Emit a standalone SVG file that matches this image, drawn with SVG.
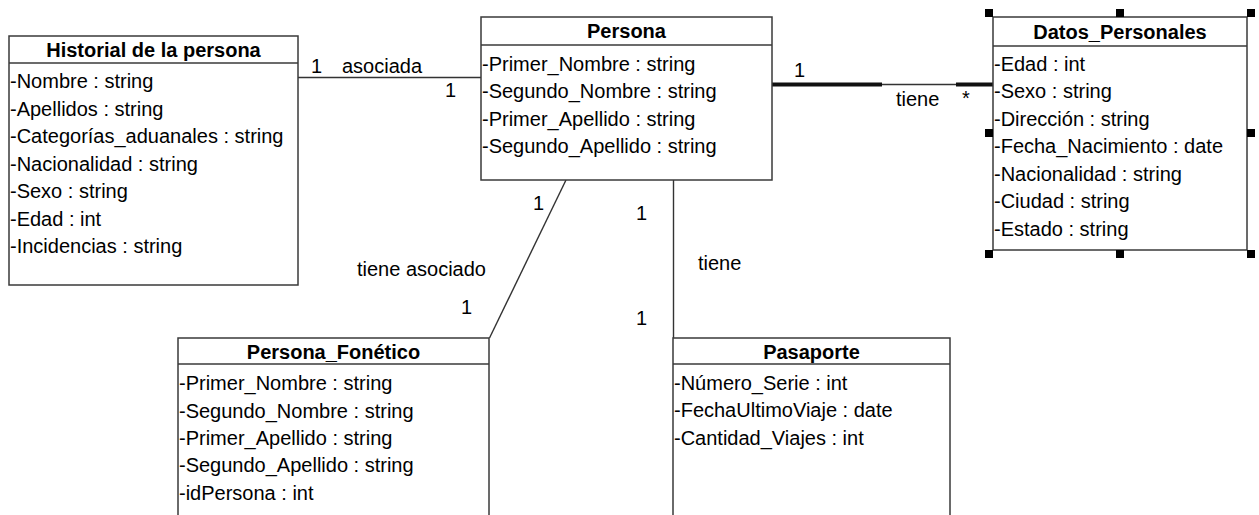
<svg xmlns="http://www.w3.org/2000/svg" width="1259" height="515" viewBox="0 0 1259 515">
  <style>
    .box { fill: #ffffff; stroke: #3a3a3a; stroke-width: 1.5; }
    .sep { stroke: #3a3a3a; stroke-width: 1.5; }
    .title { font-family: "Liberation Sans", Arial, sans-serif; font-size: 20px; font-weight: bold; fill: #000; text-anchor: middle; }
    .attr { font-family: "Liberation Sans", Arial, sans-serif; font-size: 20px; fill: #000; }
    .lbl { font-family: "Liberation Sans", Arial, sans-serif; font-size: 20px; fill: #000; }
    .link { stroke: #333; stroke-width: 1.4; fill: none; }
    .bold-link { stroke: #111; stroke-width: 4; fill: none; }
    .handle { fill: #000; }
  </style>
  <rect width="1259" height="515" fill="#ffffff"/>

  <!-- associations -->
  <g id="connectors">
    <!-- Historial de la persona - Persona -->
    <line class="link" x1="298" y1="77.5" x2="481" y2="77.5"/>
    <text class="lbl" x="311" y="73">1</text>
    <text class="lbl" x="342" y="73">asociada</text>
    <text class="lbl" x="445" y="97">1</text>

    <!-- Persona - Datos_Personales -->
    <line class="bold-link" x1="772" y1="84.5" x2="882" y2="84.5"/>
    <line class="link" x1="882" y1="84.5" x2="956" y2="84.5"/>
    <line class="bold-link" x1="956" y1="84.5" x2="993" y2="84.5"/>
    <text class="lbl" x="794" y="77">1</text>
    <text class="lbl" x="896" y="106">tiene</text>
    <text class="lbl" x="962" y="105">*</text>

    <!-- Persona - Persona_Fonético -->
    <line class="link" x1="566" y1="180" x2="489.5" y2="338"/>
    <text class="lbl" x="533" y="210">1</text>
    <text class="lbl" x="357" y="276">tiene asociado</text>
    <text class="lbl" x="461" y="314">1</text>

    <!-- Persona - Pasaporte -->
    <line class="link" x1="673.5" y1="180" x2="673.5" y2="338"/>
    <text class="lbl" x="636" y="220">1</text>
    <text class="lbl" x="698" y="270">tiene</text>
    <text class="lbl" x="636" y="325">1</text>
  </g>

  <!-- Historial de la persona -->
  <g id="historial">
    <rect class="box" x="9" y="36" width="289" height="249"/>
    <line class="sep" x1="9" y1="63" x2="298" y2="63"/>
    <text class="title" x="153.5" y="57">Historial de la persona</text>
    <text class="attr" x="10" y="88">-Nombre : string</text>
    <text class="attr" x="10" y="115.5">-Apellidos : string</text>
    <text class="attr" x="10" y="143">-Categorías_aduanales : string</text>
    <text class="attr" x="10" y="170.5">-Nacionalidad : string</text>
    <text class="attr" x="10" y="198">-Sexo : string</text>
    <text class="attr" x="10" y="225.5">-Edad : int</text>
    <text class="attr" x="10" y="253">-Incidencias : string</text>
  </g>

  <!-- Persona -->
  <g id="persona">
    <rect class="box" x="481" y="17" width="291" height="163"/>
    <line class="sep" x1="481" y1="45" x2="772" y2="45"/>
    <text class="title" x="626.5" y="38">Persona</text>
    <text class="attr" x="482" y="70.5">-Primer_Nombre : string</text>
    <text class="attr" x="482" y="98">-Segundo_Nombre : string</text>
    <text class="attr" x="482" y="125.5">-Primer_Apellido : string</text>
    <text class="attr" x="482" y="153">-Segundo_Apellido : string</text>
  </g>

  <!-- Datos_Personales (selected) -->
  <g id="datos-personales">
    <rect class="box" x="993" y="17" width="254" height="233"/>
    <line class="sep" x1="993" y1="46" x2="1247" y2="46"/>
    <text class="title" x="1120" y="39">Datos_Personales</text>
    <text class="attr" x="994" y="70.5">-Edad : int</text>
    <text class="attr" x="994" y="98">-Sexo : string</text>
    <text class="attr" x="994" y="125.5">-Dirección : string</text>
    <text class="attr" x="994" y="153">-Fecha_Nacimiento : date</text>
    <text class="attr" x="994" y="180.5">-Nacionalidad : string</text>
    <text class="attr" x="994" y="208">-Ciudad : string</text>
    <text class="attr" x="994" y="235.5">-Estado : string</text>
    <rect class="handle" x="985" y="9" width="8" height="8"/>
    <rect class="handle" x="1116" y="9" width="8" height="8"/>
    <rect class="handle" x="1247" y="9" width="8" height="8"/>
    <rect class="handle" x="985" y="129" width="8" height="8"/>
    <rect class="handle" x="1247" y="129" width="8" height="8"/>
    <rect class="handle" x="985" y="250" width="8" height="8"/>
    <rect class="handle" x="1116" y="250" width="8" height="8"/>
    <rect class="handle" x="1247" y="250" width="8" height="8"/>
  </g>

  <!-- Persona_Fonético -->
  <g id="persona-fonetico">
    <rect class="box" x="178" y="338" width="311" height="200"/>
    <line class="sep" x1="178" y1="364" x2="489" y2="364"/>
    <text class="title" x="333.5" y="359">Persona_Fonético</text>
    <text class="attr" x="179" y="390">-Primer_Nombre : string</text>
    <text class="attr" x="179" y="417.5">-Segundo_Nombre : string</text>
    <text class="attr" x="179" y="444.5">-Primer_Apellido : string</text>
    <text class="attr" x="179" y="472">-Segundo_Apellido : string</text>
    <text class="attr" x="179" y="499.5">-idPersona : int</text>
  </g>

  <!-- Pasaporte -->
  <g id="pasaporte">
    <rect class="box" x="673" y="338" width="277" height="200"/>
    <line class="sep" x1="673" y1="364" x2="950" y2="364"/>
    <text class="title" x="811.5" y="359">Pasaporte</text>
    <text class="attr" x="674" y="389.5">-Número_Serie : int</text>
    <text class="attr" x="674" y="417">-FechaUltimoViaje : date</text>
    <text class="attr" x="674" y="444.5">-Cantidad_Viajes : int</text>
  </g>
</svg>
